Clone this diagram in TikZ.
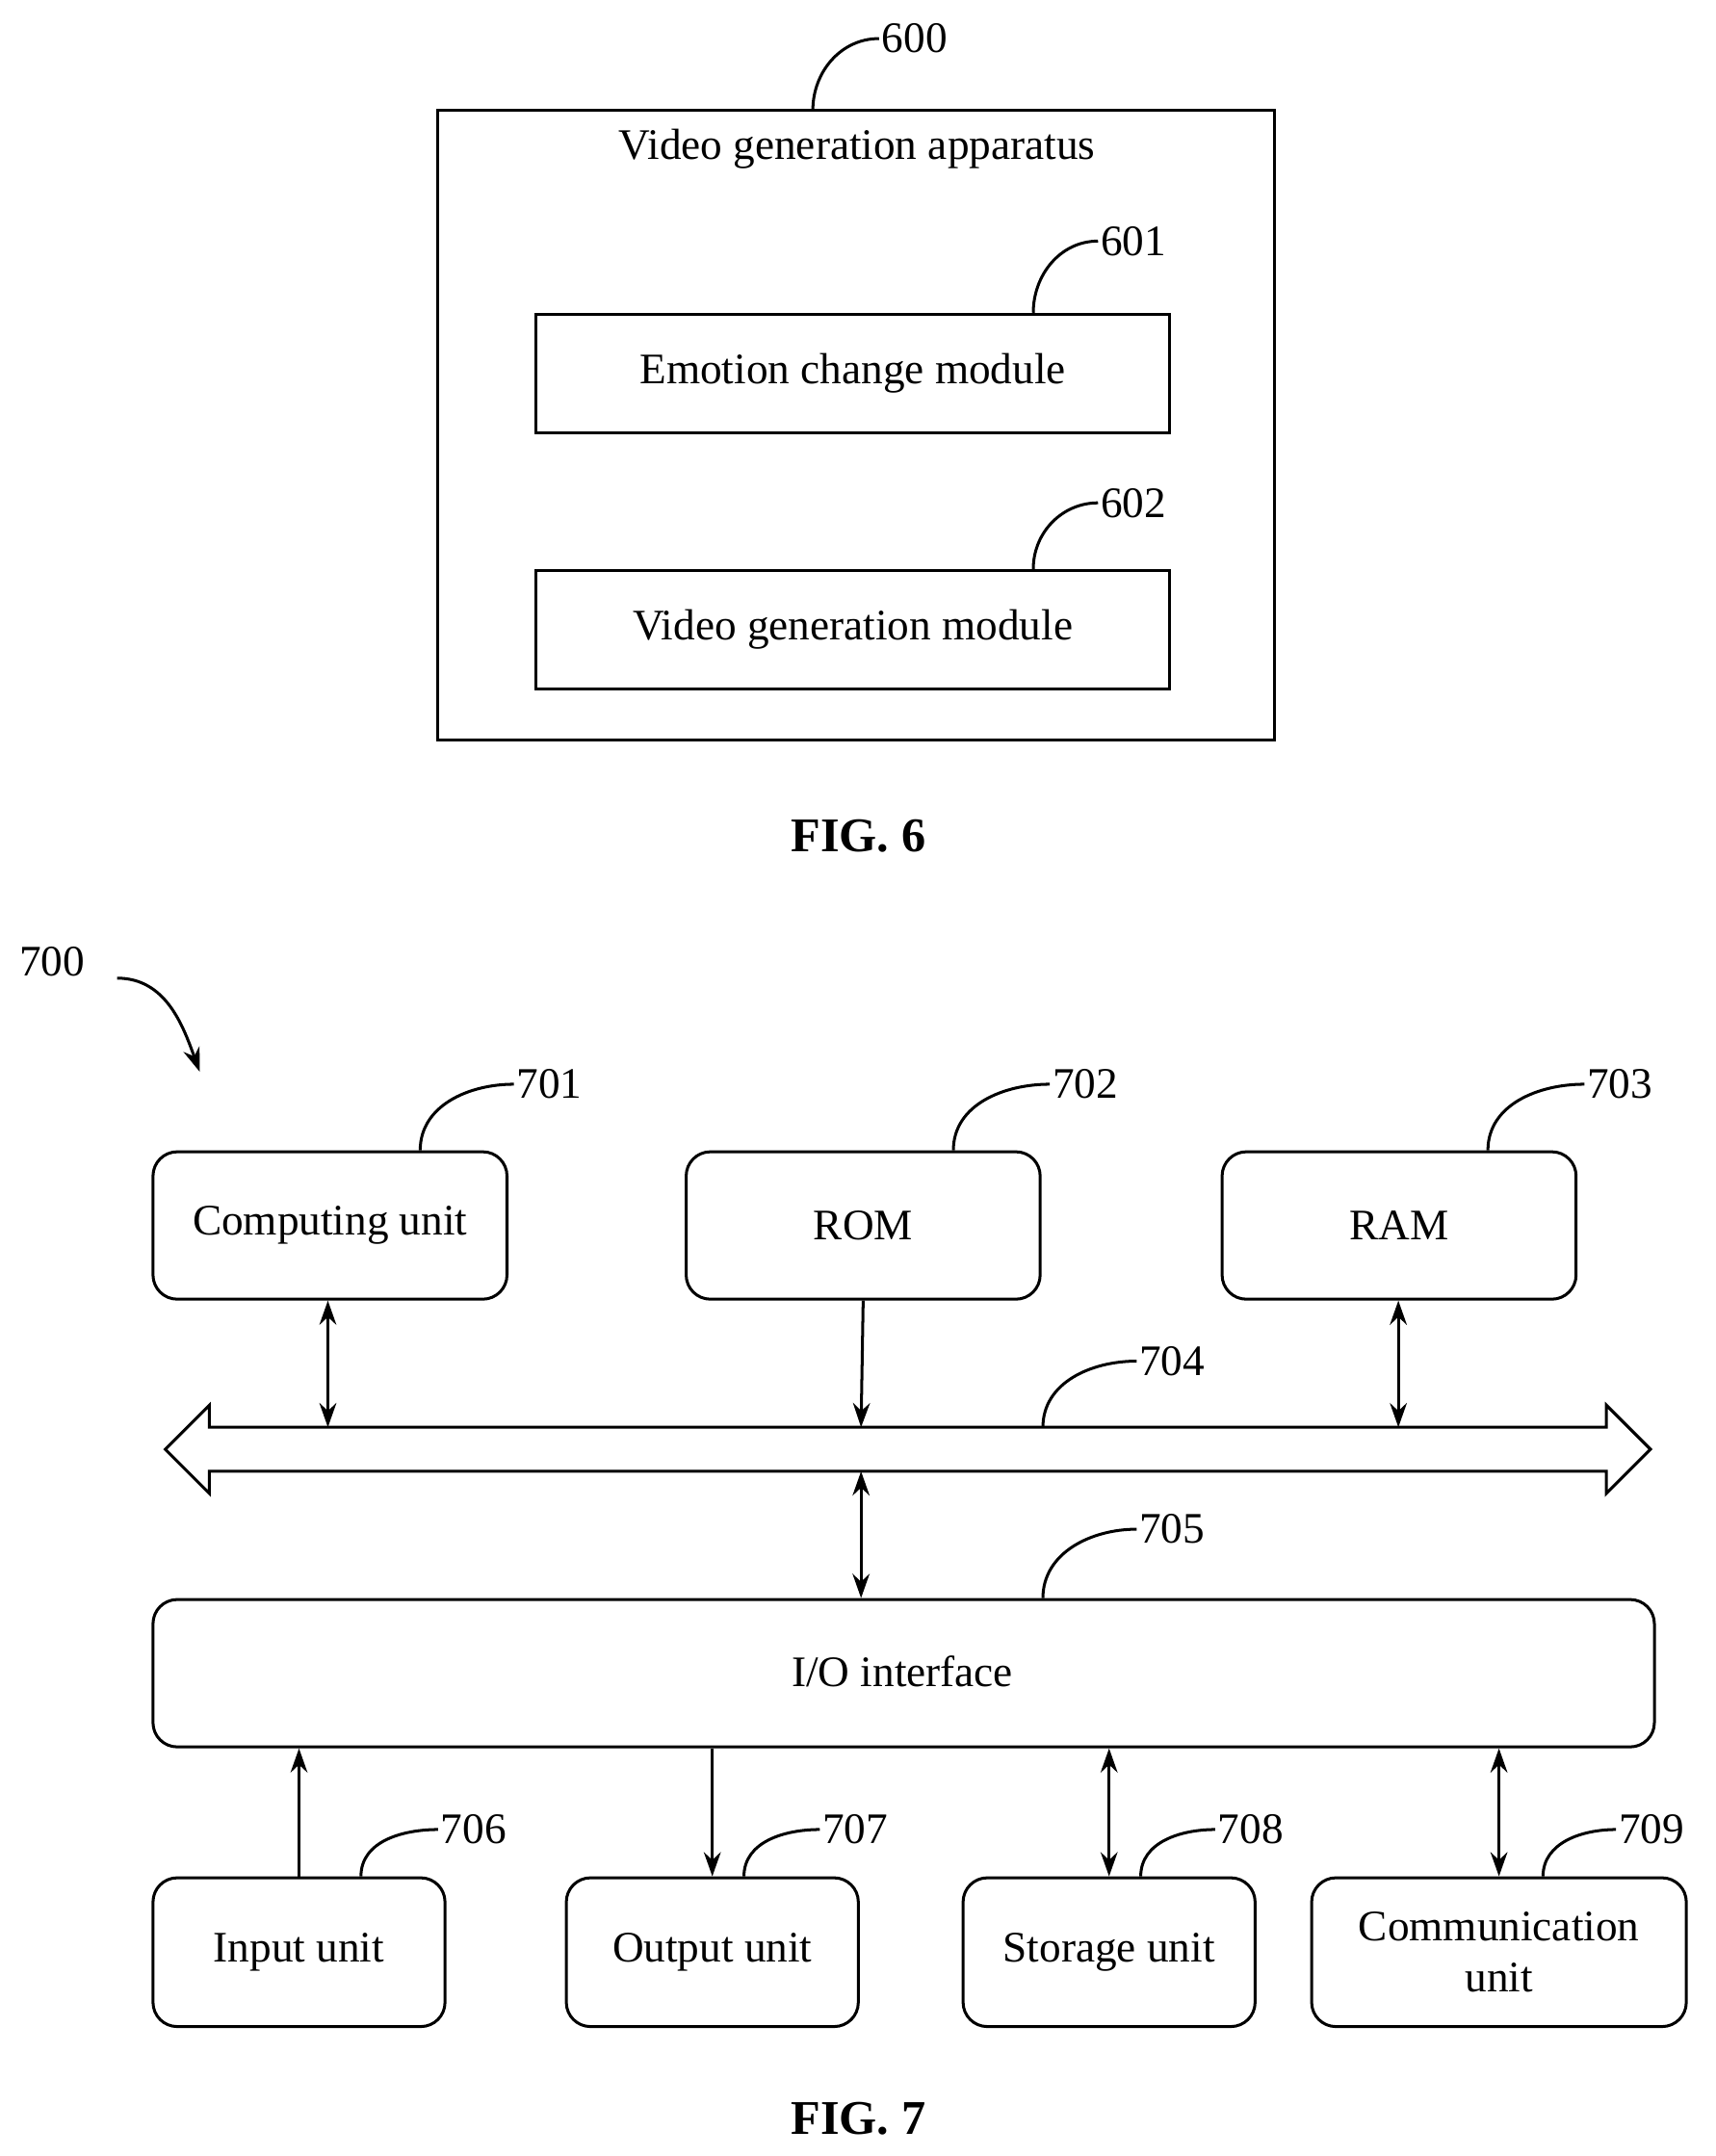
\documentclass[tikz,border=0pt]{standalone}
\usepackage{fontspec}
\setmainfont{Liberation Serif}
\usetikzlibrary{arrows.meta}
\begin{document}
\begin{tikzpicture}[x=0.02cm,y=-0.02cm,
  box/.style={draw,line width=1.2pt,inner sep=0pt},
  rbox/.style={box,rounded corners=10pt},
  txt/.style={font=\fontsize{18}{21}\selectfont},
  lbl/.style={font=\fontsize{18}{21}\selectfont,anchor=west,inner sep=1pt},
  lead/.style={line width=1.2pt},
  ar/.style={line width=1.2pt,-{Stealth[length=10pt,width=7pt]}},
  dar/.style={line width=1.2pt,{Stealth[length=10pt,width=7pt]}-{Stealth[length=10pt,width=7pt]}},
  fig/.style={font=\fontsize{20}{24}\selectfont\bfseries}]
\useasboundingbox (0,0) rectangle (1245,1565);
% FIG 6
\draw[box] (318,80) rectangle (925,537);
\coordinate (b600) at (590,80);
\node[txt] (t600) at (622,108) {Video generation apparatus};
\node[box,minimum width=460\pgflinewidth,anchor=north west,minimum width=9.2cm,minimum height=1.72cm] (m601) at (388,227) {};
\node[txt] at (m601) {Emotion change module};
\node[box,anchor=north west,minimum width=9.2cm,minimum height=1.72cm] (m602) at (388,413) {};
\node[txt] at (m602) {Video generation module};
\node[lbl] (l600) at (638,28) {600};
\node[lbl] (l601) at (797,175) {601};
\node[lbl] (l602) at (797,365) {602};
\draw[lead] (b600) to[out=90,in=180] (l600.west);
\draw[lead] (m601.north west)++(362,0) to[out=90,in=180] (l601.west);
\draw[lead] (m602.north west)++(362,0) to[out=90,in=180] (l602.west);
\node[fig] at (623,607) {FIG. 6};
% FIG 7
\node[lbl] (l700) at (12,698) {700};
\coordinate (a700) at (145,778);
\draw[ar] (85,710) to[out=0,in=110] (a700);
\node[rbox,anchor=north west,minimum width=5.14cm,minimum height=2.14cm] (c) at (110,835) {};
\node[txt] at (c) {Computing unit};
\node[rbox,anchor=north west,minimum width=5.14cm,minimum height=2.14cm] (rom) at (497,835) {};
\node[txt] at (rom) {ROM};
\node[rbox,anchor=north west,minimum width=5.14cm,minimum height=2.14cm] (ram) at (886,835) {};
\node[txt] at (ram) {RAM};
\node[lbl] (l701) at (373,787) {701};
\node[lbl] (l702) at (762,787) {702};
\node[lbl] (l703) at (1150,787) {703};
\draw[lead] (305,835) to[out=90,in=180] (l701.west);
\draw[lead] (692,835) to[out=90,in=180] (l702.west);
\draw[lead] (1080,835) to[out=90,in=180] (l703.west);
% bus
\draw[line width=1.2pt] (120,1052)--(152,1020)--(152,1036)--(1166,1036)--(1166,1020)--(1198,1052)--(1166,1084)--(1166,1068)--(152,1068)--(152,1084)--cycle;
\coordinate (bt1) at (238,1036); \coordinate (bt2) at (625,1036); \coordinate (bt3) at (1015,1036);
\coordinate (bb) at (625,1068);
\node[lbl] (l704) at (825,988) {704};
\draw[lead] (757,1036) to[out=90,in=180] (l704.west);
\draw[dar] (c.south -| bt1) -- (bt1);
\draw[ar] (rom.south) -- (bt2);
\draw[dar] (ram.south -| bt3) -- (bt3);
\node[rbox,anchor=north west,minimum width=21.8cm,minimum height=2.14cm] (io) at (110,1160) {};
\node[txt] at (655,1213) {I/O interface};
\draw[dar] (bb) -- (bb |- io.north);
\node[lbl] (l705) at (825,1110) {705};
\draw[lead] (757,1160) to[out=90,in=180] (l705.west);
% bottom
\node[rbox,anchor=north west,minimum width=4.24cm,minimum height=2.16cm] (in) at (110,1362) {};
\node[txt] at (in) {Input unit};
\node[rbox,anchor=north west,minimum width=4.24cm,minimum height=2.16cm] (out) at (410,1362) {};
\node[txt] at (out) {Output unit};
\node[rbox,anchor=north west,minimum width=4.24cm,minimum height=2.16cm] (st) at (698,1362) {};
\node[txt] at (st) {Storage unit};
\node[rbox,anchor=north west,minimum width=5.44cm,minimum height=2.16cm] (com) at (951,1362) {};
\node[txt,align=center] at (com) {Communication\\unit};
\draw[ar] (in.north) -- (in.north |- io.south);
\draw[ar] (out.north |- io.south) -- (out.north);
\draw[dar] (st.north |- io.south) -- (st.north);
\draw[dar] (com.north |- io.south) -- (com.north);
\node[lbl] (l706) at (318,1328) {706};
\node[lbl] (l707) at (595,1328) {707};
\node[lbl] (l708) at (882,1328) {708};
\node[lbl] (l709) at (1173,1328) {709};
\draw[lead] (262,1362) to[out=90,in=180] (l706.west);
\draw[lead] (540,1362) to[out=90,in=180] (l707.west);
\draw[lead] (828,1362) to[out=90,in=180] (l708.west);
\draw[lead] (1120,1362) to[out=90,in=180] (l709.west);
\node[fig] at (623,1538) {FIG. 7};
\end{tikzpicture}
\end{document}
